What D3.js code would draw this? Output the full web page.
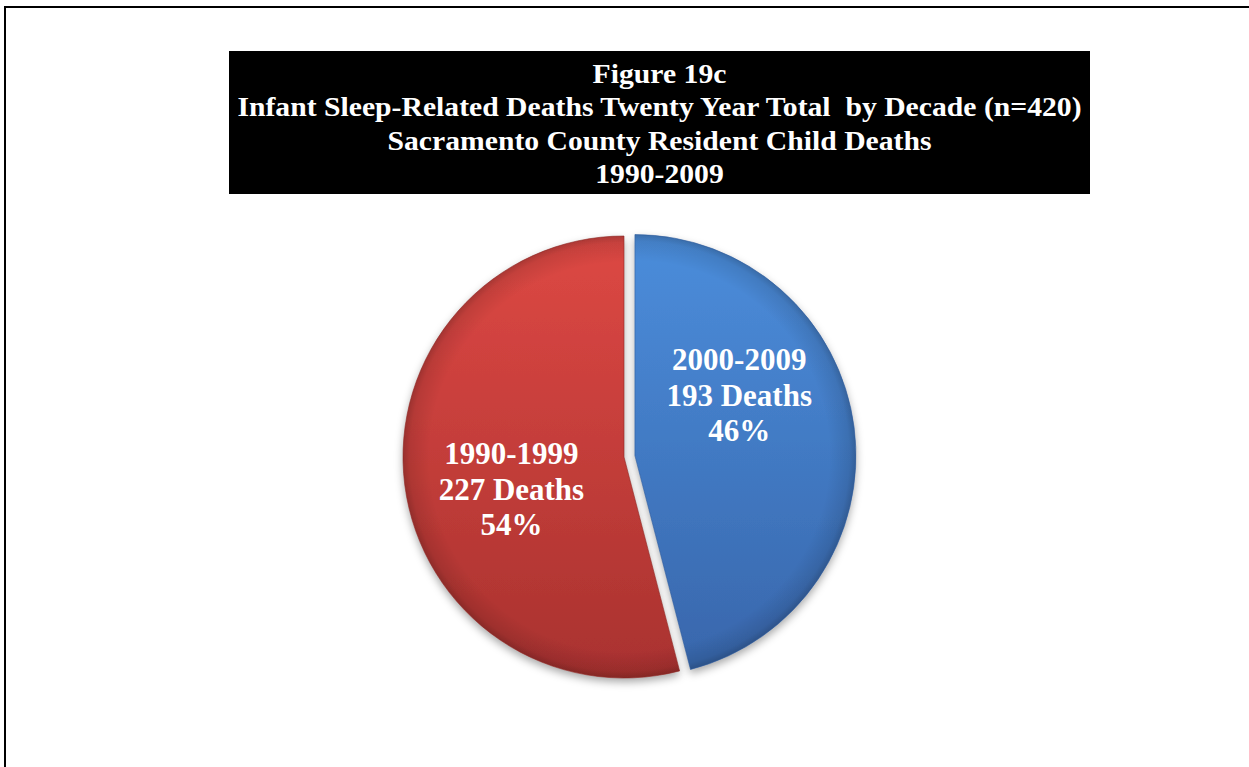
<!DOCTYPE html>
<html>
<head>
<meta charset="utf-8">
<script src="https://cdn.jsdelivr.net/npm/d3@7"></script>
<style>
  html, body { margin: 0; padding: 0; background: #ffffff; }
  svg { display: block; }
</style>
</head>
<body>
<svg id="chart" width="1249" height="767"></svg>
<script>
// ---- data ----
const titleLines = [
  "Figure 19c",
  "Infant Sleep-Related Deaths Twenty Year Total \u00a0by Decade (n=420)",
  "Sacramento County Resident Child Deaths",
  "1990-2009"
];
const categories = ["2000-2009", "1990-1999"];
const deaths = [193, 227];
const percentLabels = ["46%", "54%"];

// ---- styles / layout (not data) ----
const palette = {
  "2000-2009": { top: "#4b8ddb", bottom: "#3866ab", rim: "#2f5a99" },
  "1990-1999": { top: "#dd4844", bottom: "#a9322f", rim: "#8c2926" }
};
const explode = { "2000-2009": 11, "1990-1999": 0 };
// label polar placement relative to slice centre (degrees clockwise from 12 o'clock, fraction of radius)
const labelPlace = { "2000-2009": { ang: 60, frac: 0.545 }, "1990-1999": { ang: 254, frac: 0.53 } };

const svg = d3.select("#chart");
const W = 1249, H = 767;

// page border
svg.append("rect")
  .attr("x", 5).attr("y", 7)
  .attr("width", W + 20).attr("height", H + 20)
  .attr("fill", "none").attr("stroke", "#000").attr("stroke-width", 2);

// title block
const titleCx = 659.5;
svg.append("rect")
  .attr("x", 229).attr("y", 51).attr("width", 861).attr("height", 143)
  .attr("fill", "#000");
svg.append("g")
  .attr("transform", `translate(${titleCx},0) scale(1.06,1)`)
  .selectAll("text").data(titleLines).join("text")
  .attr("x", 0)
  .attr("y", (d, i) => 83 + i * 33.3)
  .attr("text-anchor", "middle")
  .attr("font-family", "'Liberation Serif', 'Times New Roman', serif")
  .attr("font-weight", "bold")
  .attr("font-size", 28)
  .attr("fill", "#fff")
  .style("white-space", "pre")
  .text(d => d);

// pie
const cx = 624, cy = 457, R = 221;
const defs = svg.append("defs");

const shadow = defs.append("filter").attr("id", "shadow")
  .attr("x", "-20%").attr("y", "-20%").attr("width", "140%").attr("height", "140%");
shadow.append("feDropShadow")
  .attr("dx", 0).attr("dy", 4).attr("stdDeviation", 4)
  .attr("flood-color", "#000").attr("flood-opacity", 0.35);

categories.forEach((c, i) => {
  const g = defs.append("linearGradient").attr("id", "grad" + i)
    .attr("gradientUnits", "userSpaceOnUse")
    .attr("x1", 0).attr("y1", -R).attr("x2", 0).attr("y2", R);
  g.append("stop").attr("offset", "0%").attr("stop-color", palette[c].top);
  g.append("stop").attr("offset", "100%").attr("stop-color", palette[c].bottom);
});
// rim shading overlay
const rg = defs.append("radialGradient").attr("id", "rim")
  .attr("gradientUnits", "userSpaceOnUse")
  .attr("cx", 0).attr("cy", 0).attr("r", R);
rg.append("stop").attr("offset", "0%").attr("stop-color", "#000").attr("stop-opacity", 0);
rg.append("stop").attr("offset", "88%").attr("stop-color", "#000").attr("stop-opacity", 0);
rg.append("stop").attr("offset", "97%").attr("stop-color", "#000").attr("stop-opacity", 0.10);
rg.append("stop").attr("offset", "100%").attr("stop-color", "#000").attr("stop-opacity", 0.22);

const pie = d3.pie().sort(null).value(d => d.value);
const arcs = pie(categories.map((c, i) => ({ cat: c, value: deaths[i], pct: percentLabels[i] })));
const arc = d3.arc().innerRadius(0).outerRadius(R);

const pieG = svg.append("g").attr("transform", `translate(${cx},${cy})`);

const slice = pieG.selectAll("g.slice").data(arcs).join("g")
  .attr("class", "slice")
  .attr("transform", d => {
    const a = (d.startAngle + d.endAngle) / 2;
    const o = explode[d.data.cat];
    return `translate(${o * Math.sin(a)},${-o * Math.cos(a)})`;
  });

slice.append("path")
  .attr("d", arc)
  .attr("fill", (d, i) => `url(#grad${i})`)
  .attr("filter", "url(#shadow)");

slice.append("path")
  .attr("d", arc)
  .attr("fill", "url(#rim)");
slice.append("path")
  .attr("d", arc)
  .attr("fill", "none")
  .attr("stroke", d => palette[d.data.cat].rim)
  .attr("stroke-width", 1)
  .attr("stroke-opacity", 0.6);

// labels
const lab = slice.append("text")
  .attr("text-anchor", "middle")
  .attr("font-family", "'Liberation Serif', 'Times New Roman', serif")
  .attr("font-weight", "bold")
  .attr("font-size", 31)
  .attr("fill", "#fff")
  .attr("transform", d => {
    const p = labelPlace[d.data.cat];
    const a = p.ang * Math.PI / 180;
    return `translate(${p.frac * R * Math.sin(a)},${-p.frac * R * Math.cos(a)})`;
  });
lab.selectAll("tspan")
  .data(d => [d.data.cat, `${d.data.value} Deaths`, d.data.pct])
  .join("tspan")
  .attr("x", 0)
  .attr("y", (d, i) => -25 + i * 35.5)
  .text(d => d);
</script>
</body>
</html>
